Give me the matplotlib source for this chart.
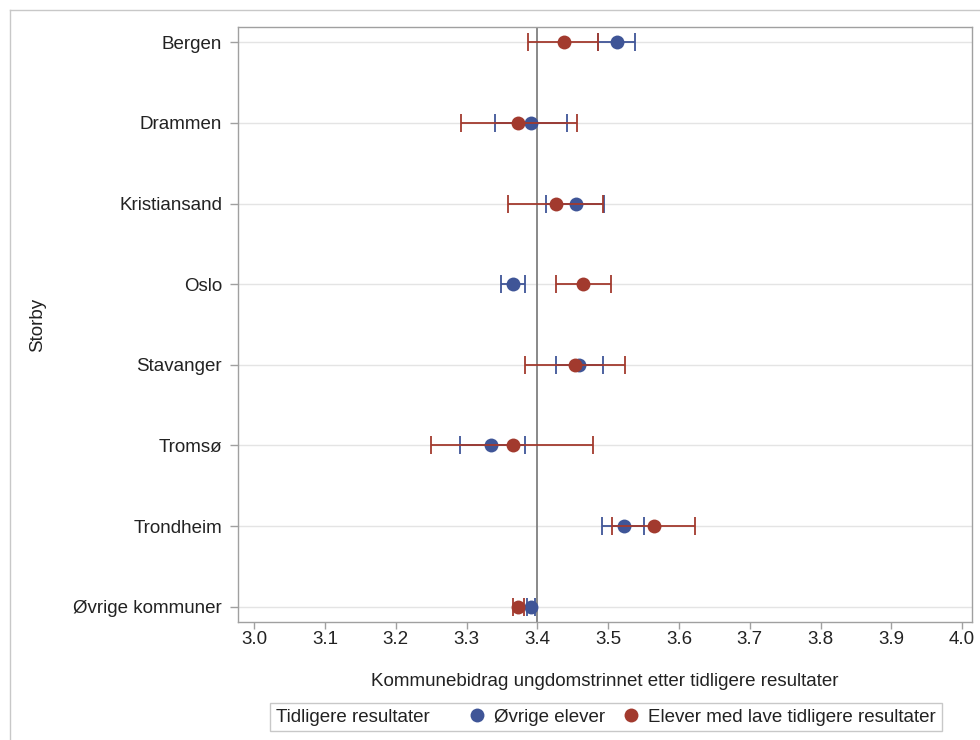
import matplotlib
matplotlib.use("Agg")
import matplotlib.pyplot as plt
from matplotlib.lines import Line2D
from matplotlib.offsetbox import HPacker
import numpy as np

plt.rcParams['font.family'] = ['Liberation Sans', 'DejaVu Sans']

categories = ["Bergen", "Drammen", "Kristiansand", "Oslo", "Stavanger",
              "Tromsø", "Trondheim", "Øvrige kommuner"]

blue_est = [3.512, 3.391, 3.454, 3.365, 3.459, 3.334, 3.522, 3.391]
blue_lo  = [3.485, 3.340, 3.412, 3.348, 3.426, 3.290, 3.491, 3.386]
blue_hi  = [3.538, 3.442, 3.494, 3.382, 3.493, 3.383, 3.551, 3.396]

red_est = [3.437, 3.373, 3.426, 3.465, 3.453, 3.365, 3.565, 3.373]
red_lo  = [3.387, 3.292, 3.358, 3.426, 3.383, 3.250, 3.506, 3.365]
red_hi  = [3.486, 3.456, 3.493, 3.504, 3.524, 3.478, 3.623, 3.381]

ref_value = 3.4
xticks = [3.0, 3.1, 3.2, 3.3, 3.4, 3.5, 3.6, 3.7, 3.8, 3.9, 4.0]

BLUE = "#3F5597"
RED = "#A23A2E"
AXC = "#A0A0A0"
TXT = "#222222"
FS = 13.5

fig = plt.figure(figsize=(9.8, 7.4), dpi=100)
W, H = 980, 740
ax = fig.add_axes([238 / W, 1 - 622 / H, (972 - 238) / W, (622 - 27) / H])

y = np.arange(len(categories))

for i in y:
    ax.axhline(i, color="#E4E4E4", lw=1, zorder=0)

ax.axvline(ref_value, color="#808080", lw=1.3, zorder=1)


def draw(est, lo, hi, color, z):
    est = np.array(est); lo = np.array(lo); hi = np.array(hi)
    ax.errorbar(est, y, xerr=[est - lo, hi - est], fmt="none", ecolor=color,
                elinewidth=1.3, capsize=6.5, capthick=1.3, zorder=z)
    ax.plot(est, y, "o", color=color, markersize=10, markeredgewidth=0, zorder=z + 0.5)


draw(blue_est, blue_lo, blue_hi, BLUE, 2)
draw(red_est, red_lo, red_hi, RED, 3)

ax.set_xlim(2.977, 4.014)
ax.set_ylim(len(categories) - 1 + 0.19, -0.19)
ax.set_yticks(y)
ax.set_yticklabels(categories, fontsize=FS, color=TXT)
ax.set_xticks(xticks)
ax.set_xticklabels([f"{t:.1f}" for t in xticks], fontsize=FS, color=TXT)
ax.tick_params(axis="x", direction="out", color=AXC, length=5, width=1, pad=1.5)
ax.tick_params(axis="y", direction="out", color=AXC, length=6, width=1, pad=5.5)
for s in ax.spines.values():
    s.set_color(AXC)
    s.set_linewidth(1)

ax.set_xlabel("Kommunebidrag ungdomstrinnet etter tidligere resultater",
              fontsize=FS, color=TXT)
ax.xaxis.set_label_coords(0.5, 1 - (673 - 27) / (622 - 27))
ax.set_ylabel("Storby", fontsize=FS, color=TXT)
ax.yaxis.set_label_coords((46 - 238) / (972 - 238), 0.5)

handles = [Line2D([], [], marker="o", ls="none", color=BLUE, markersize=10, markeredgewidth=0),
           Line2D([], [], marker="o", ls="none", color=RED, markersize=10, markeredgewidth=0)]
leg = fig.legend(handles, ["Øvrige elever", "Elever med lave tidligere resultater"],
                 title="Tidligere resultater", ncol=2, loc="center",
                 bbox_to_anchor=(606 / W, 1 - 717 / H), fontsize=FS,
                 title_fontsize=FS, frameon=True, fancybox=False,
                 handletextpad=0.3, columnspacing=0.8, borderpad=0.3,
                 handlelength=1.2)
leg.get_frame().set_edgecolor("#BBBBBB")
leg.get_frame().set_linewidth(1)
for t in leg.get_texts():
    t.set_color(TXT)
leg.get_title().set_color(TXT)
title_box = leg._legend_title_box
handle_box = leg._legend_handle_box
leg._legend_box._children = [HPacker(pad=0, sep=26, children=[title_box, handle_box], align="center")]

fig.add_artist(Line2D([10 / W, 10 / W], [0, 1 - 10 / H], color="#C8C8C8", lw=1))
fig.add_artist(Line2D([10 / W, 1], [1 - 10 / H, 1 - 10 / H], color="#C8C8C8", lw=1))

fig.savefig("out.png", dpi=100)
